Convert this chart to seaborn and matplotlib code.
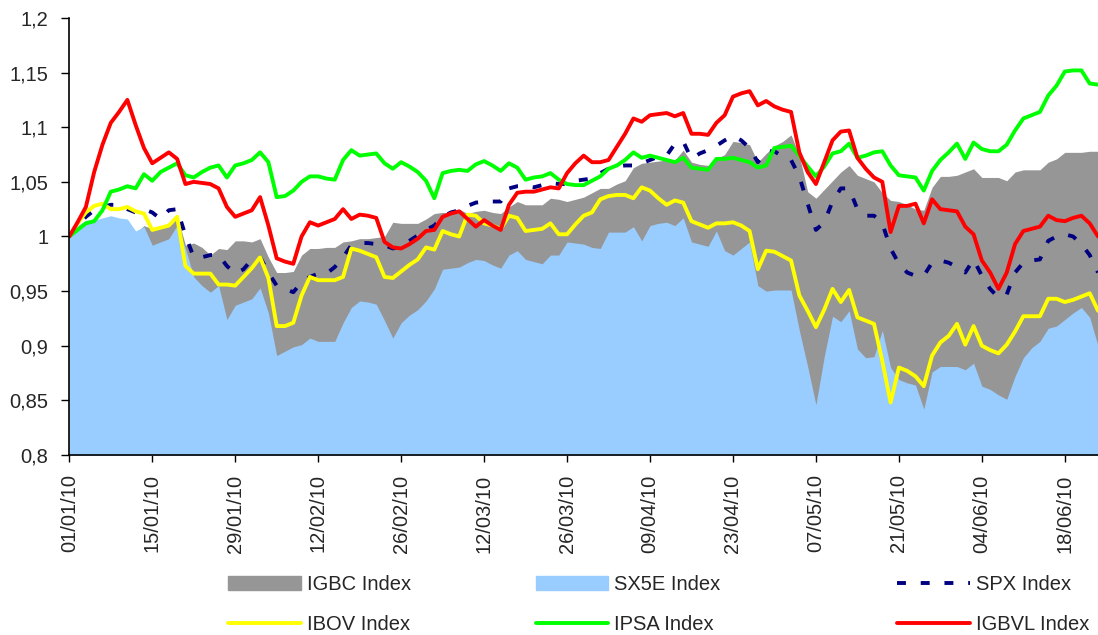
import matplotlib
matplotlib.use('Agg')
import matplotlib.pyplot as plt
import seaborn as sns
import pandas as pd
from matplotlib.patches import Patch
from matplotlib.lines import Line2D
from matplotlib.ticker import FuncFormatter

sns.set_style('white')
plt.rcParams['font.family'] = ['Liberation Sans', 'DejaVu Sans']
plt.rcParams['font.size'] = 14.5

# trading days from 01/01/10, one value per day
dates = pd.bdate_range('2010-01-01', periods=125)

igbc = [1.000, 1.005, 1.010, 1.012, 1.012, 1.013, 1.013, 1.012, 1.003, 1.010,
        1.007, 1.009, 1.010, 1.019, 0.992, 0.994, 0.990, 0.983, 0.989, 0.988,
        0.996, 0.996, 0.995, 0.998, 0.981, 0.967, 0.967, 0.968, 0.983, 0.989,
        0.989, 0.990, 0.990, 0.995, 0.996, 0.998, 0.998, 0.999, 1.000, 1.013,
        1.012, 1.012, 1.012, 1.016, 1.021, 1.022, 1.022, 1.025, 1.021, 1.023,
        1.024, 1.022, 1.021, 1.027, 1.032, 1.029, 1.029, 1.029, 1.035, 1.034,
        1.032, 1.034, 1.036, 1.040, 1.044, 1.044, 1.048, 1.051, 1.063, 1.067,
        1.068, 1.069, 1.070, 1.070, 1.079, 1.068, 1.066, 1.065, 1.071, 1.075,
        1.087, 1.086, 1.084, 1.068, 1.076, 1.083, 1.087, 1.093, 1.074, 1.041,
        1.035, 1.043, 1.051, 1.059, 1.065, 1.056, 1.053, 1.050, 1.040, 1.033,
        1.032, 1.029, 1.025, 1.024, 1.045, 1.055, 1.055, 1.056, 1.059, 1.062,
        1.054, 1.054, 1.054, 1.051, 1.059, 1.061, 1.061, 1.061, 1.068, 1.071,
        1.077, 1.077, 1.077, 1.078, 1.078]

sx5e = [1.000, 1.010, 1.015, 1.015, 1.017, 1.019, 1.017, 1.016, 1.005, 1.009,
        0.992, 0.995, 0.998, 1.010, 0.989, 0.963, 0.955, 0.949, 0.955, 0.924,
        0.937, 0.940, 0.943, 0.953, 0.930, 0.891, 0.895, 0.899, 0.901, 0.907,
        0.904, 0.904, 0.904, 0.921, 0.935, 0.941, 0.940, 0.938, 0.923, 0.907,
        0.921, 0.928, 0.933, 0.941, 0.952, 0.970, 0.971, 0.972, 0.976, 0.979,
        0.978, 0.974, 0.971, 0.983, 0.987, 0.979, 0.977, 0.975, 0.983, 0.983,
        0.995, 0.994, 0.993, 0.990, 0.989, 1.004, 1.004, 1.004, 1.009, 0.996,
        1.010, 1.012, 1.013, 1.010, 1.017, 0.995, 0.993, 0.991, 1.005, 0.987,
        0.983, 0.989, 0.995, 0.955, 0.950, 0.951, 0.951, 0.951, 0.914, 0.881,
        0.846, 0.890, 0.927, 0.922, 0.932, 0.897, 0.889, 0.890, 0.914, 0.880,
        0.869, 0.866, 0.864, 0.842, 0.876, 0.881, 0.881, 0.881, 0.878, 0.884,
        0.863, 0.860, 0.855, 0.851, 0.872, 0.889, 0.898, 0.904, 0.916, 0.918,
        0.924, 0.930, 0.935, 0.926, 0.900]

spx = [1.000, 1.010, 1.018, 1.024, 1.027, 1.029, 1.029, 1.025, 1.022, 1.025,
       1.022, 1.016, 1.024, 1.025, 1.001, 0.981, 0.981, 0.983, 0.983, 0.973,
       0.966, 0.970, 0.979, 0.981, 0.967, 0.955, 0.952, 0.949, 0.958, 0.963,
       0.966, 0.966, 0.972, 0.981, 0.992, 0.994, 0.994, 0.993, 0.992, 0.989,
       0.991, 0.996, 1.001, 1.006, 1.010, 1.018, 1.022, 1.024, 1.028, 1.031,
       1.032, 1.032, 1.032, 1.044, 1.046, 1.046, 1.045, 1.047, 1.049, 1.048,
       1.048, 1.051, 1.052, 1.053, 1.058, 1.062, 1.064, 1.065, 1.065, 1.067,
       1.070, 1.073, 1.074, 1.085, 1.087, 1.071, 1.076, 1.079, 1.083, 1.088,
       1.092, 1.088, 1.081, 1.068, 1.078, 1.078, 1.073, 1.070, 1.055, 1.030,
       1.006, 1.013, 1.032, 1.044, 1.044, 1.025, 1.019, 1.019, 1.012, 0.989,
       0.975, 0.967, 0.964, 0.964, 0.976, 0.978, 0.976, 0.972, 0.967, 0.979,
       0.964, 0.952, 0.944, 0.947, 0.967, 0.976, 0.978, 0.979, 0.996, 1.000,
       1.002, 1.000, 0.993, 0.983, 0.967]

ibov = [1.000, 1.012, 1.022, 1.028, 1.030, 1.025, 1.025, 1.027, 1.023, 1.021,
        1.006, 1.008, 1.010, 1.018, 0.973, 0.966, 0.966, 0.966, 0.956, 0.956,
        0.955, 0.963, 0.971, 0.981, 0.962, 0.918, 0.918, 0.921, 0.946, 0.963,
        0.960, 0.960, 0.960, 0.963, 0.989, 0.987, 0.984, 0.981, 0.963, 0.962,
        0.968, 0.974, 0.979, 0.990, 0.988, 1.005, 1.002, 1.000, 1.020, 1.019,
        1.012, 1.010, 1.007, 1.019, 1.017, 1.005, 1.006, 1.007, 1.012, 1.002,
        1.002, 1.011, 1.019, 1.022, 1.034, 1.037, 1.038, 1.038, 1.035, 1.045,
        1.042, 1.035, 1.029, 1.033, 1.031, 1.014, 1.011, 1.008, 1.012, 1.012,
        1.013, 1.010, 1.005, 0.970, 0.987, 0.986, 0.982, 0.978, 0.946, 0.932,
        0.917, 0.933, 0.952, 0.940, 0.951, 0.926, 0.923, 0.920, 0.886, 0.848,
        0.880, 0.877, 0.872, 0.863, 0.891, 0.903, 0.909, 0.920, 0.901, 0.918,
        0.900, 0.896, 0.893, 0.901, 0.913, 0.927, 0.927, 0.927, 0.943, 0.943,
        0.940, 0.942, 0.945, 0.948, 0.932]

ipsa = [1.000, 1.006, 1.012, 1.014, 1.024, 1.041, 1.043, 1.046, 1.044, 1.057,
        1.051, 1.059, 1.063, 1.067, 1.056, 1.054, 1.059, 1.063, 1.065, 1.054,
        1.065, 1.067, 1.070, 1.077, 1.068, 1.036, 1.037, 1.042, 1.050, 1.055,
        1.055, 1.053, 1.052, 1.070, 1.079, 1.074, 1.075, 1.076, 1.067, 1.062,
        1.068, 1.064, 1.059, 1.051, 1.035, 1.058, 1.060, 1.061, 1.060, 1.066,
        1.069, 1.065, 1.060, 1.067, 1.063, 1.052, 1.054, 1.055, 1.058, 1.052,
        1.048, 1.047, 1.047, 1.051, 1.055, 1.062, 1.065, 1.070, 1.077, 1.072,
        1.074, 1.072, 1.070, 1.068, 1.072, 1.063, 1.062, 1.061, 1.071, 1.071,
        1.072, 1.070, 1.068, 1.063, 1.065, 1.081, 1.082, 1.083, 1.074, 1.064,
        1.055, 1.064, 1.076, 1.078, 1.085, 1.072, 1.074, 1.077, 1.078, 1.065,
        1.056, 1.055, 1.054, 1.042, 1.060, 1.070, 1.077, 1.085, 1.071, 1.086,
        1.080, 1.078, 1.078, 1.084, 1.097, 1.108, 1.111, 1.114, 1.129, 1.138,
        1.151, 1.152, 1.152, 1.140, 1.139]

igbvl = [1.000, 1.013, 1.027, 1.059, 1.084, 1.104, 1.114, 1.125, 1.102, 1.081,
         1.067, 1.072, 1.077, 1.071, 1.048, 1.050, 1.049, 1.048, 1.044, 1.027,
         1.018, 1.021, 1.024, 1.036, 1.010, 0.980, 0.977, 0.975, 1.000, 1.013,
         1.010, 1.013, 1.016, 1.025, 1.016, 1.020, 1.019, 1.017, 0.995, 0.990,
         0.989, 0.993, 0.998, 1.005, 1.006, 1.018, 1.021, 1.023, 1.016, 1.009,
         1.015, 1.010, 1.006, 1.029, 1.040, 1.041, 1.041, 1.043, 1.045, 1.044,
         1.058, 1.067, 1.074, 1.068, 1.068, 1.070, 1.082, 1.094, 1.108, 1.105,
         1.111, 1.112, 1.113, 1.110, 1.113, 1.094, 1.094, 1.093, 1.104, 1.111,
         1.128, 1.131, 1.133, 1.120, 1.124, 1.119, 1.116, 1.114, 1.077, 1.059,
         1.048, 1.068, 1.088, 1.096, 1.097, 1.072, 1.062, 1.054, 1.050, 1.004,
         1.028, 1.028, 1.030, 1.012, 1.034, 1.025, 1.024, 1.023, 1.009, 1.002,
         0.978, 0.967, 0.952, 0.967, 0.993, 1.005, 1.007, 1.009, 1.019, 1.015,
         1.014, 1.017, 1.019, 1.012, 1.000]

df = pd.DataFrame({'day': range(len(dates)), 'IGBC Index': igbc, 'SX5E Index': sx5e,
                   'SPX Index': spx, 'IBOV Index': ibov, 'IPSA Index': ipsa,
                   'IGBVL Index': igbvl})

gray = '#969696'
lightblue = '#99CCFF'
navy = '#000080'
spx_dash = [2.3, 3.8]

fig = plt.figure(figsize=(10.98, 6.35), dpi=100)
ax = fig.add_axes([0.0631, 0.2835, 0.9369, 0.6882])

ax.fill_between(df['day'], 0.8, df['IGBC Index'], color=gray, lw=0)
ax.fill_between(df['day'], 0.8, df['SX5E Index'], color=lightblue, lw=0)

lw = 2.8
sns.lineplot(data=df, x='day', y='SPX Index', ax=ax, color=navy, linewidth=lw)
ax.lines[-1].set_dashes(spx_dash)
sns.lineplot(data=df, x='day', y='IBOV Index', ax=ax, color='#FFFF00', linewidth=lw)
sns.lineplot(data=df, x='day', y='IPSA Index', ax=ax, color='#00FF00', linewidth=lw)
sns.lineplot(data=df, x='day', y='IGBVL Index', ax=ax, color='#FF0000', linewidth=lw)

ax.set_xlim(0, len(dates) - 1)
ax.set_ylim(0.8, 1.2)
ax.set_yticks([0.8 + 0.05 * i for i in range(9)])
ax.yaxis.set_major_formatter(FuncFormatter(lambda v, p: ('%g' % round(v, 2)).replace('.', ',')))
ticks = list(range(0, len(dates), 10))
ax.set_xticks(ticks)
ax.set_xticklabels([dates[i].strftime('%d/%m/%y') for i in ticks], rotation=90)
ax.set_xlabel('')
ax.set_ylabel('')
ax.tick_params(axis='y', direction='out', length=6, width=1, pad=9, labelsize=14.5, color='black', left=True)
ax.tick_params(axis='x', direction='out', length=5, width=1, pad=9, labelsize=14.5, color='black', bottom=True)

for s in ['top', 'right']:
    ax.spines[s].set_visible(False)
for s in ['left', 'bottom']:
    ax.spines[s].set_color('black')
    ax.spines[s].set_linewidth(1.2)

# legend, three columns below the plot
cols = [
    ([Patch(color=gray), Line2D([], [], color='#FFFF00', lw=lw)], ['IGBC Index', 'IBOV Index'], 0.208),
    ([Patch(color=lightblue), Line2D([], [], color='#00FF00', lw=lw)], ['SX5E Index', 'IPSA Index'], 0.488),
    ([Line2D([], [], color=navy, lw=lw, dashes=spx_dash), Line2D([], [], color='#FF0000', lw=lw)],
     ['SPX Index', 'IGBVL Index'], 0.817),
]
for handles, labels, x0 in cols:
    fig.legend(handles, labels, loc='upper left', bbox_to_anchor=(x0, 0.094), frameon=False,
               fontsize=14.5, handlelength=3.6, handletextpad=0.3, labelspacing=1.05,
               borderaxespad=0, borderpad=0)

fig.savefig('out.png', dpi=100)
